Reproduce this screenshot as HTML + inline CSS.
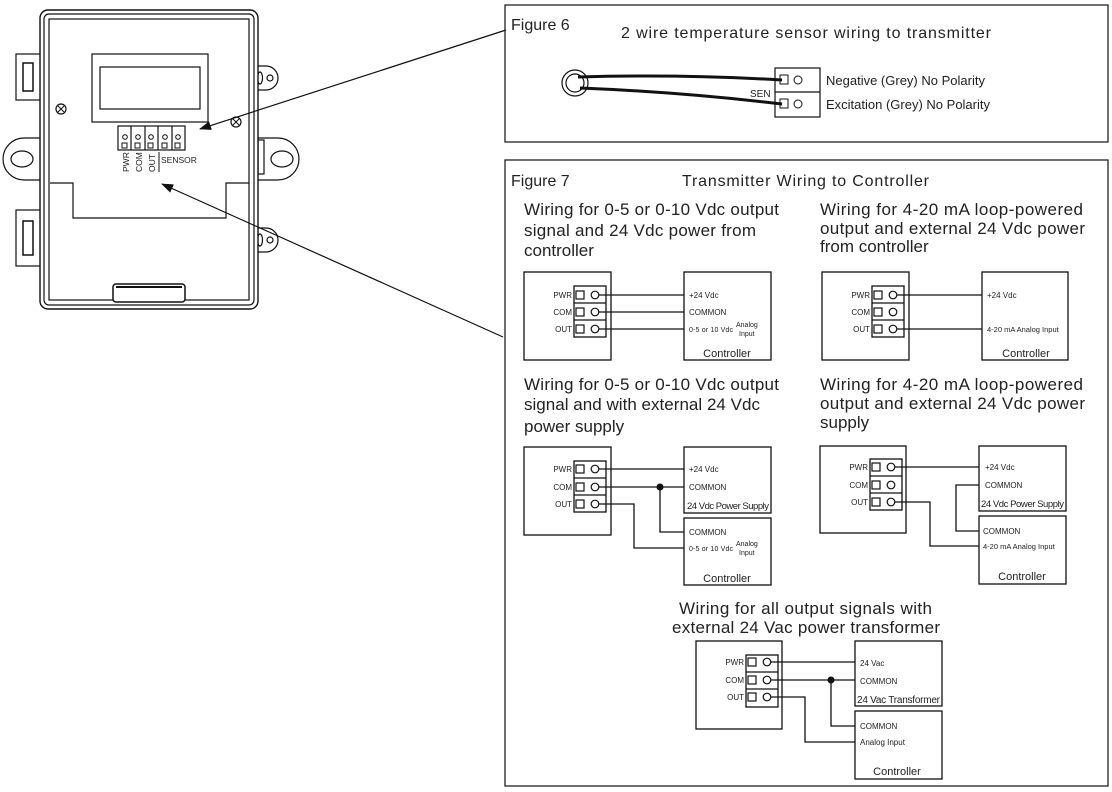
<!DOCTYPE html>
<html><head><meta charset="utf-8"><style>
html,body{margin:0;padding:0;background:#fff;width:1112px;height:792px;overflow:hidden}
svg{display:block;font-family:"Liberation Sans",sans-serif}
.h{font-size:17px;fill:#222}
.s{font-size:8px;fill:#222}
.c{font-size:11px;fill:#222}
</style></head><body>
<svg width="1112" height="792" viewBox="0 0 1112 792" xmlns="http://www.w3.org/2000/svg">
<defs>
<marker id="ah" markerWidth="12" markerHeight="9" refX="11" refY="4.5" orient="auto" markerUnits="userSpaceOnUse"><path d="M0,0 L12,4.5 L0,9 z" fill="#111"/></marker>
</defs>
<g fill="none" stroke="#111" stroke-width="1.2">
<rect x="16" y="54" width="26" height="46" fill="#fff"/><rect x="23" y="63" width="10" height="28" stroke-width="1.5"/>
<rect x="16" y="210" width="26" height="56" fill="#fff"/><rect x="23" y="221" width="10" height="34" stroke-width="1.5"/>
<path d="M42,138 L24,138 A20,20 0 0 0 24,180 L42,180" fill="#fff"/><ellipse cx="22" cy="159" rx="11" ry="8"/>
<path d="M257,66 L266,66 A12,12 0 0 1 266,90 L257,90" fill="#fff"/><circle cx="270" cy="78" r="3"/><ellipse cx="260" cy="78" rx="2.5" ry="6"/>
<path d="M257,228 L266,228 A12,12 0 0 1 266,252 L257,252" fill="#fff"/><circle cx="270" cy="240" r="3"/><ellipse cx="260" cy="240" rx="2.5" ry="6"/>
<path d="M257,138 L278,138 A20,20 0 0 1 278,180 L257,180" fill="#fff"/><ellipse cx="282" cy="159" rx="11" ry="8"/><rect x="258" y="140" width="6" height="34"/>
<rect x="40" y="10" width="218" height="299" rx="8" fill="#fff" stroke-width="1.4"/>
<rect x="44" y="14" width="210" height="291" rx="5"/>
<rect x="49" y="19" width="200" height="281"/>
<rect x="92" y="54" width="116" height="68"/>
<rect x="100" y="67" width="100" height="42"/>
<path d="M50,183 L73,183 L73,218 L226,218 L226,183 L249,183"/>
<rect x="118" y="126" width="67" height="24"/>
<path d="M131,126 V150 M145,126 V150 M158,126 V150 M172,126 V150"/>
<rect x="113" y="284" width="72" height="18" rx="3" fill="#fff" stroke-width="1.5"/>
<path d="M116,287 H182" stroke-width="2"/>
<circle cx="61" cy="109" r="5"/><circle cx="236" cy="122" r="5"/>
<path d="M58,106 L64,112 M64,106 L58,112 M233,119 L239,125 M239,119 L233,125" stroke-width="1"/>
</g>
<g fill="none" stroke="#111" stroke-width="1">
<circle cx="125" cy="137" r="2.3"/><circle cx="138" cy="137" r="2.3"/><circle cx="151" cy="137" r="2.3"/><circle cx="165" cy="137" r="2.3"/><circle cx="178" cy="137" r="2.3"/>
<rect x="122" y="143" width="5" height="5"/><rect x="135" y="143" width="5" height="5"/><rect x="148" y="143" width="5" height="5"/><rect x="162" y="143" width="5" height="5"/><rect x="175" y="143" width="5" height="5"/>
<path d="M159,152 V172"/>
</g>
<g font-size="8.5" fill="#222">
<text transform="translate(129,172) rotate(-90)">PWR</text>
<text transform="translate(142,172) rotate(-90)">COM</text>
<text transform="translate(155,172) rotate(-90)">OUT</text>
<text x="161" y="163">SENSOR</text>
</g>
<line x1="506" y1="30" x2="200" y2="129" stroke="#111" stroke-width="1.2" marker-end="url(#ah)"/>
<line x1="503" y1="337" x2="162" y2="184" stroke="#111" stroke-width="1.2" marker-end="url(#ah)"/>

<rect x="505" y="5" width="603" height="137" fill="none" stroke="#222" stroke-width="1.3"/>
<text x="511" y="30" font-size="16" fill="#222">Figure 6</text>
<text x="621" y="38" font-size="16" fill="#222" textLength="370">2 wire temperature sensor wiring to transmitter</text>
<g fill="none" stroke="#111">
<circle cx="575" cy="83" r="13" stroke-width="1.2"/><circle cx="575" cy="83" r="9" stroke-width="1.2"/>
<path d="M578,77 Q680,74 782,80" stroke-width="3"/>
<path d="M580,88 Q680,92 782,104" stroke-width="3"/>
<rect x="775" y="68" width="45" height="49" stroke-width="1.2"/><path d="M775,92 H820" stroke-width="1.2"/>
<rect x="780" y="75" width="8" height="9"/><rect x="780" y="99" width="8" height="9"/>
<circle cx="798" cy="80" r="4"/><circle cx="798" cy="104" r="4"/>
</g>
<text x="750" y="97" font-size="10" fill="#222">SEN</text>
<text x="826" y="85" font-size="13" fill="#222">Negative (Grey) No Polarity</text>
<text x="826" y="109" font-size="13" fill="#222">Excitation (Grey) No Polarity</text>

<rect x="505" y="160" width="603" height="626" fill="none" stroke="#222" stroke-width="1.3"/>
<text x="511" y="186" font-size="16" fill="#222">Figure 7</text>
<text x="682" y="186" font-size="16" fill="#222" textLength="247">Transmitter Wiring to Controller</text>
<g class="h">
<text x="524" y="215" textLength="255">Wiring for 0-5 or 0-10 Vdc output</text>
<text x="524" y="236" textLength="232">signal and 24 Vdc power from</text>
<text x="524" y="256">controller</text>
<text x="820" y="215" textLength="263">Wiring for 4-20 mA loop-powered</text>
<text x="820" y="234" textLength="265">output and external 24 Vdc power</text>
<text x="820" y="252">from controller</text>
<text x="524" y="390" textLength="255">Wiring for 0-5 or 0-10 Vdc output</text>
<text x="524" y="410" textLength="236">signal and with external 24 Vdc</text>
<text x="524" y="432">power supply</text>
<text x="820" y="390" textLength="263">Wiring for 4-20 mA loop-powered</text>
<text x="820" y="409" textLength="265">output and external 24 Vdc power</text>
<text x="820" y="428">supply</text>
<text x="679" y="614" textLength="253">Wiring for all output signals with</text>
<text x="672" y="633" textLength="268">external 24 Vac power transformer</text>
</g>

<g fill="none" stroke="#111" stroke-width="1.3">
<rect x="524" y="272" width="87" height="88"/><rect x="574" y="286" width="32" height="51"/><path d="M574,303 H606 M574,320 H606"/>
<rect x="684" y="272" width="87" height="88"/>
<path d="M595,295 H684 M595,312 H684 M595,329 H684"/>
<rect x="822" y="272" width="87" height="88"/><rect x="872" y="286" width="32" height="51"/><path d="M872,303 H904 M872,320 H904"/>
<rect x="982" y="272" width="86" height="88"/>
<path d="M893,295 H982 M893,329 H982"/>
<rect x="524" y="447" width="87" height="88"/><rect x="574" y="461" width="32" height="51"/><path d="M574,478 H606 M574,495 H606"/>
<rect x="684" y="447" width="87" height="66"/><rect x="684" y="518" width="87" height="67"/>
<path d="M595,469 H684 M595,487 H684 M660,487 V532 H684 M595,504 H634 V548 H684"/>
<rect x="820" y="446" width="86" height="87"/><rect x="870" y="459" width="32" height="51"/><path d="M870,476 H902 M870,493 H902"/>
<rect x="979" y="446" width="87" height="65"/><rect x="979" y="516" width="87" height="68"/>
<path d="M891,467 H979 M979,485 H956 V531 H979 M891,502 H930 V546 H979"/>
<rect x="696" y="641" width="86" height="88"/><rect x="746" y="655" width="32" height="52"/><path d="M746,672 H778 M746,689 H778"/>
<rect x="855" y="641" width="87" height="65"/><rect x="855" y="711" width="87" height="68"/>
<path d="M767,662 H855 M767,680 H855 M831,680 V726 H855 M767,697 H805 V742 H855"/>
</g>
<g fill="#111"><circle cx="660" cy="487" r="3.5"/><circle cx="831" cy="680" r="3.5"/></g>
<g fill="#fff" stroke="#111" stroke-width="1.2">
<rect x="576" y="291" width="8" height="8"/><rect x="576" y="308" width="8" height="8"/><rect x="576" y="325" width="8" height="8"/>
<circle cx="595" cy="295" r="3.8"/><circle cx="595" cy="312" r="3.8"/><circle cx="595" cy="329" r="3.8"/>
<rect x="874" y="291" width="8" height="8"/><rect x="874" y="308" width="8" height="8"/><rect x="874" y="325" width="8" height="8"/>
<circle cx="893" cy="295" r="3.8"/><circle cx="893" cy="312" r="3.8"/><circle cx="893" cy="329" r="3.8"/>
<rect x="576" y="465" width="8" height="8"/><rect x="576" y="483" width="8" height="8"/><rect x="576" y="500" width="8" height="8"/>
<circle cx="595" cy="469" r="3.8"/><circle cx="595" cy="487" r="3.8"/><circle cx="595" cy="504" r="3.8"/>
<rect x="872" y="463" width="8" height="8"/><rect x="872" y="481" width="8" height="8"/><rect x="872" y="498" width="8" height="8"/>
<circle cx="891" cy="467" r="3.8"/><circle cx="891" cy="485" r="3.8"/><circle cx="891" cy="502" r="3.8"/>
<rect x="748" y="658" width="8" height="8"/><rect x="748" y="676" width="8" height="8"/><rect x="748" y="693" width="8" height="8"/>
<circle cx="767" cy="662" r="3.8"/><circle cx="767" cy="680" r="3.8"/><circle cx="767" cy="697" r="3.8"/>
</g>
<g class="s" text-anchor="end">
<text x="572" y="298">PWR</text><text x="572" y="315">COM</text><text x="572" y="332">OUT</text>
<text x="870" y="298">PWR</text><text x="870" y="315">COM</text><text x="870" y="332">OUT</text>
<text x="572" y="472">PWR</text><text x="572" y="490">COM</text><text x="572" y="507">OUT</text>
<text x="868" y="470">PWR</text><text x="868" y="488">COM</text><text x="868" y="505">OUT</text>
<text x="744" y="665">PWR</text><text x="744" y="683">COM</text><text x="744" y="700">OUT</text>
</g>
<g class="s">
<text x="689" y="298">+24 Vdc</text><text x="689" y="315">COMMON</text><text x="689" y="332" font-size="7" textLength="44">0-5  or 10 Vdc</text>
<text x="736" y="327" font-size="7">Analog</text><text x="739" y="336" font-size="7">Input</text>
<text x="987" y="298">+24 Vdc</text><text x="987" y="332" font-size="7.5">4-20 mA Analog Input</text>
<text x="689" y="472">+24 Vdc</text><text x="689" y="490">COMMON</text>
<text x="689" y="535">COMMON</text><text x="689" y="551" font-size="7" textLength="44">0-5  or 10 Vdc</text>
<text x="736" y="546" font-size="7">Analog</text><text x="739" y="555" font-size="7">Input</text>
<text x="985" y="470">+24 Vdc</text><text x="985" y="488">COMMON</text>
<text x="983" y="534">COMMON</text><text x="983" y="549" font-size="7.5">4-20 mA Analog Input</text>
<text x="860" y="666">24 Vac</text><text x="860" y="684">COMMON</text>
<text x="860" y="729">COMMON</text><text x="860" y="745">Analog Input</text>
</g>
<g class="c">
<text x="727" y="357" text-anchor="middle">Controller</text>
<text x="1026" y="357" text-anchor="middle">Controller</text>
<text x="687" y="509" font-size="9.5" textLength="82">24 Vdc Power Supply</text>
<text x="727" y="582" text-anchor="middle">Controller</text>
<text x="981" y="507" font-size="9.5" textLength="83">24 Vdc Power Supply</text>
<text x="1022" y="580" text-anchor="middle">Controller</text>
<text x="857" y="703" font-size="10" textLength="83">24 Vac Transformer</text>
<text x="897" y="775" text-anchor="middle">Controller</text>
</g>
</svg>
</body></html>
